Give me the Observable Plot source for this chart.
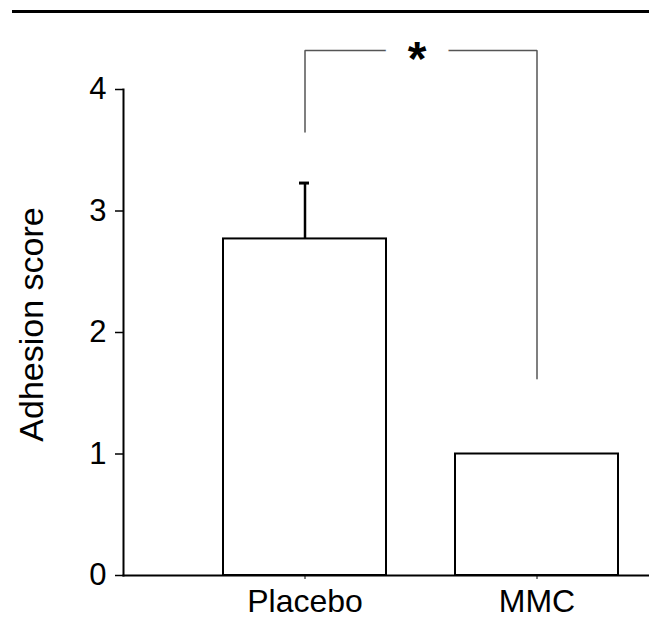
<!DOCTYPE html>
<html>
<head>
<meta charset="utf-8">
<script src="https://cdn.jsdelivr.net/npm/d3@7"></script>
<script src="https://cdn.jsdelivr.net/npm/@observablehq/plot@0.6"></script>
<style>
  html, body { margin: 0; padding: 0; background: #fff; }
  #wrap { position: relative; width: 649px; height: 620px; overflow: hidden; }
  #topline { position: absolute; top: 10px; left: 12px; width: 637px; height: 3px; background: #000; }
  #chart { position: absolute; top: 0; left: 0; }
</style>
</head>
<body>
<div id="wrap">
  <div id="chart"></div>
  <div id="topline"></div>
</div>
<script>
// ---- data ----
const groups = ["Placebo", "MMC"];
const means = [2.77, 1.0];
const errorUpper = [3.23, null];
const yTicks = [0, 1, 2, 3, 4];
const yLabel = "Adhesion score";
const sigLabel = "*";
// significance bracket: [group, y] vertices
const bracketGroups = ["Placebo", "Placebo", "MMC", "MMC"];
const bracketValues = [3.65, 4.32, 4.32, 1.62];

const bars = groups.map((g, i) => ({group: g, value: means[i], upper: errorUpper[i]}));
const errs = bars.filter(d => d.upper != null);
const bracket = bracketGroups.map((g, i) => ({group: g, value: bracketValues[i]}));

const font = "'Liberation Sans', Arial, Helvetica, sans-serif";

const plot = Plot.plot({
  width: 649,
  height: 620,
  marginTop: 89,
  marginBottom: 45,
  marginLeft: 123,
  marginRight: 0,
  style: {fontFamily: font, background: "transparent", color: "#000"},
  x: {type: "band", domain: groups, range: [222.5, 618], paddingInner: 0.299, paddingOuter: 0},
  y: {domain: [0, 4]},
  marks: [
    Plot.frame({anchor: "left", stroke: "#000", strokeWidth: 2}),
    Plot.frame({anchor: "bottom", stroke: "#000", strokeWidth: 2}),
    Plot.axisY({ticks: yTicks, tickSize: 8, tickPadding: 9, fontSize: 31, label: null, stroke: "#000", strokeWidth: 1.5, tickFormat: d3.format("d")}),
    Plot.axisX({tickSize: 4, tickPadding: 10, fontSize: 32, label: null, stroke: "#000"}),
    Plot.ruleX(errs, {x: "group", y1: "value", y2: "upper", stroke: "#000", strokeWidth: 2.5}),
    Plot.tickY(errs, {x: "group", y: "upper", stroke: "#000", strokeWidth: 3, insetLeft: 76, insetRight: 77}),
    Plot.barY(bars, {x: "group", y: "value", fill: "#fff", stroke: "#000", strokeWidth: 2}),
    Plot.line(bracket, {x: "group", y: "value", stroke: "#555", strokeWidth: 1.5, strokeLinejoin: "miter"}),
    Plot.text([sigLabel], {x: () => "Placebo", y: () => 4.32, text: d => d, dx: 112, dy: 9, fontSize: 48, fontWeight: "bold",
      fill: "#000", stroke: "#fff", strokeWidth: 44, strokeLinejoin: "round", paintOrder: "stroke"}),
    Plot.text([yLabel], {frameAnchor: "left", textAnchor: "middle", text: d => d, rotate: -90, dx: -91, dy: -8, fontSize: 34, fill: "#000"})
  ]
});
document.getElementById("chart").appendChild(plot);
</script>
</body>
</html>
